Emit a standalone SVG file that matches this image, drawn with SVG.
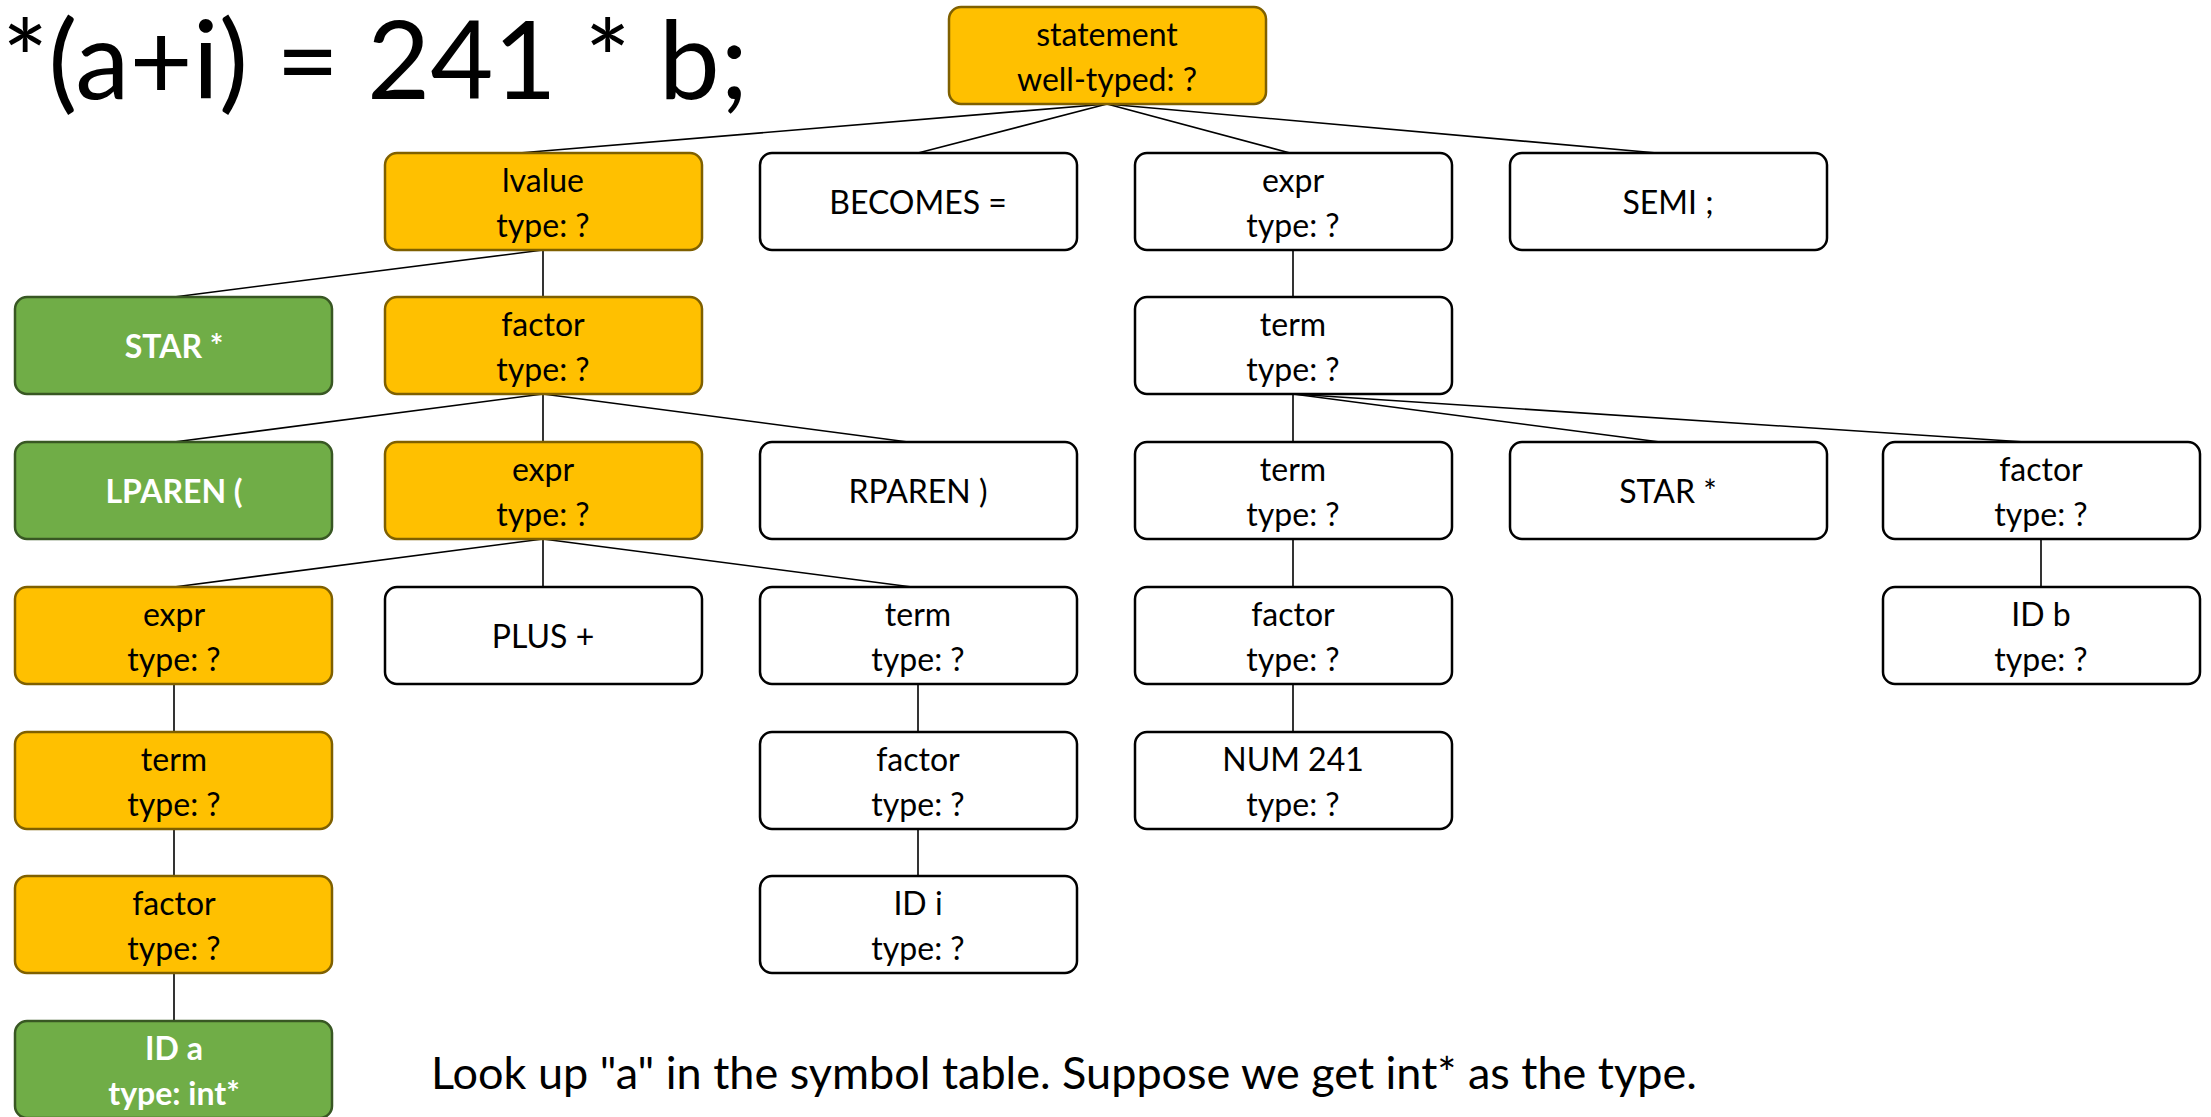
<svg xmlns="http://www.w3.org/2000/svg" width="2211" height="1117" viewBox="0 0 2211 1117">
<style>
.n rect{stroke-width:2.5}
.o rect{fill:#FFC000;stroke:#7F6000}
.w rect{fill:#FFFFFF;stroke:#000000}
.g rect{fill:#70AD47;stroke:#385723}
text{font-family:Lato,"Liberation Sans",sans-serif;font-size:32px;text-anchor:middle;fill:#000}
.g text{fill:#FFFFFF;font-weight:bold}
.e line{stroke:#000;stroke-width:1.6}
.big{font-size:109px;text-anchor:start}
.note{font-size:45px;text-anchor:start}
</style>
<rect width="2211" height="1117" fill="#FFFFFF"/>
<text class="big" x="2" y="99">*(a+i) = 241 * b;</text>
<text class="note" x="431" y="1089">Look up "a" in the symbol table. Suppose we get int* as the type.</text>
<g class="e" id="connectors">
<line x1="1107" y1="104" x2="519" y2="153"/>
<line x1="1107" y1="104" x2="918" y2="153"/>
<line x1="1107" y1="104" x2="1290" y2="153"/>
<line x1="1107" y1="104" x2="1657" y2="153"/>
<line x1="543" y1="250" x2="174" y2="297"/>
<line x1="543" y1="250" x2="543" y2="297"/>
<line x1="543" y1="394" x2="174" y2="442"/>
<line x1="543" y1="394" x2="543" y2="442"/>
<line x1="543" y1="394" x2="908" y2="442"/>
<line x1="543" y1="539" x2="174" y2="587"/>
<line x1="543" y1="539" x2="543" y2="587"/>
<line x1="543" y1="539" x2="912" y2="587"/>
<line x1="174" y1="684" x2="174" y2="732"/>
<line x1="174" y1="829" x2="174" y2="876"/>
<line x1="174" y1="973" x2="174" y2="1021"/>
<line x1="918" y1="684" x2="918" y2="732"/>
<line x1="918" y1="829" x2="918" y2="876"/>
<line x1="1293" y1="250" x2="1293" y2="297"/>
<line x1="1293" y1="394" x2="1293" y2="442"/>
<line x1="1293" y1="394" x2="1660" y2="442"/>
<line x1="1293" y1="394" x2="2025" y2="442"/>
<line x1="1293" y1="539" x2="1293" y2="587"/>
<line x1="1293" y1="684" x2="1293" y2="732"/>
<line x1="2041" y1="539" x2="2041" y2="587"/>
</g>
<g id="statement" class="n o"><rect x="949" y="7" width="317" height="97" rx="12"/><text x="1107" y="46">statement</text><text x="1107" y="91">well-typed: ?</text></g>
<g id="lvalue" class="n o"><rect x="385" y="153" width="317" height="97" rx="12"/><text x="543" y="192">lvalue</text><text x="543" y="237">type: ?</text></g>
<g id="becomes" class="n w"><rect x="760" y="153" width="317" height="97" rx="12"/><text x="918" y="214">BECOMES =</text></g>
<g id="expr_r" class="n w"><rect x="1135" y="153" width="317" height="97" rx="12"/><text x="1293" y="192">expr</text><text x="1293" y="237">type: ?</text></g>
<g id="semi" class="n w"><rect x="1510" y="153" width="317" height="97" rx="12"/><text x="1668" y="214">SEMI ;</text></g>
<g id="star1" class="n g"><rect x="15" y="297" width="317" height="97" rx="12"/><text x="174" y="358">STAR *</text></g>
<g id="factor1" class="n o"><rect x="385" y="297" width="317" height="97" rx="12"/><text x="543" y="336">factor</text><text x="543" y="381">type: ?</text></g>
<g id="term_r1" class="n w"><rect x="1135" y="297" width="317" height="97" rx="12"/><text x="1293" y="336">term</text><text x="1293" y="381">type: ?</text></g>
<g id="lparen" class="n g"><rect x="15" y="442" width="317" height="97" rx="12"/><text x="174" y="503">LPAREN (</text></g>
<g id="expr1" class="n o"><rect x="385" y="442" width="317" height="97" rx="12"/><text x="543" y="481">expr</text><text x="543" y="526">type: ?</text></g>
<g id="rparen" class="n w"><rect x="760" y="442" width="317" height="97" rx="12"/><text x="918" y="503">RPAREN )</text></g>
<g id="term_r2" class="n w"><rect x="1135" y="442" width="317" height="97" rx="12"/><text x="1293" y="481">term</text><text x="1293" y="526">type: ?</text></g>
<g id="star2" class="n w"><rect x="1510" y="442" width="317" height="97" rx="12"/><text x="1668" y="503">STAR *</text></g>
<g id="factor_b" class="n w"><rect x="1883" y="442" width="317" height="97" rx="12"/><text x="2041" y="481">factor</text><text x="2041" y="526">type: ?</text></g>
<g id="expr2" class="n o"><rect x="15" y="587" width="317" height="97" rx="12"/><text x="174" y="626">expr</text><text x="174" y="671">type: ?</text></g>
<g id="plus" class="n w"><rect x="385" y="587" width="317" height="97" rx="12"/><text x="543" y="648">PLUS +</text></g>
<g id="term_i" class="n w"><rect x="760" y="587" width="317" height="97" rx="12"/><text x="918" y="626">term</text><text x="918" y="671">type: ?</text></g>
<g id="factor_241" class="n w"><rect x="1135" y="587" width="317" height="97" rx="12"/><text x="1293" y="626">factor</text><text x="1293" y="671">type: ?</text></g>
<g id="id_b" class="n w"><rect x="1883" y="587" width="317" height="97" rx="12"/><text x="2041" y="626">ID b</text><text x="2041" y="671">type: ?</text></g>
<g id="term_a" class="n o"><rect x="15" y="732" width="317" height="97" rx="12"/><text x="174" y="771">term</text><text x="174" y="816">type: ?</text></g>
<g id="factor_i" class="n w"><rect x="760" y="732" width="317" height="97" rx="12"/><text x="918" y="771">factor</text><text x="918" y="816">type: ?</text></g>
<g id="num241" class="n w"><rect x="1135" y="732" width="317" height="97" rx="12"/><text x="1293" y="771">NUM 241</text><text x="1293" y="816">type: ?</text></g>
<g id="factor_a" class="n o"><rect x="15" y="876" width="317" height="97" rx="12"/><text x="174" y="915">factor</text><text x="174" y="960">type: ?</text></g>
<g id="id_i" class="n w"><rect x="760" y="876" width="317" height="97" rx="12"/><text x="918" y="915">ID i</text><text x="918" y="960">type: ?</text></g>
<g id="id_a" class="n g"><rect x="15" y="1021" width="317" height="97" rx="12"/><text x="174" y="1060">ID a</text><text x="174" y="1105">type: int*</text></g>
</svg>
